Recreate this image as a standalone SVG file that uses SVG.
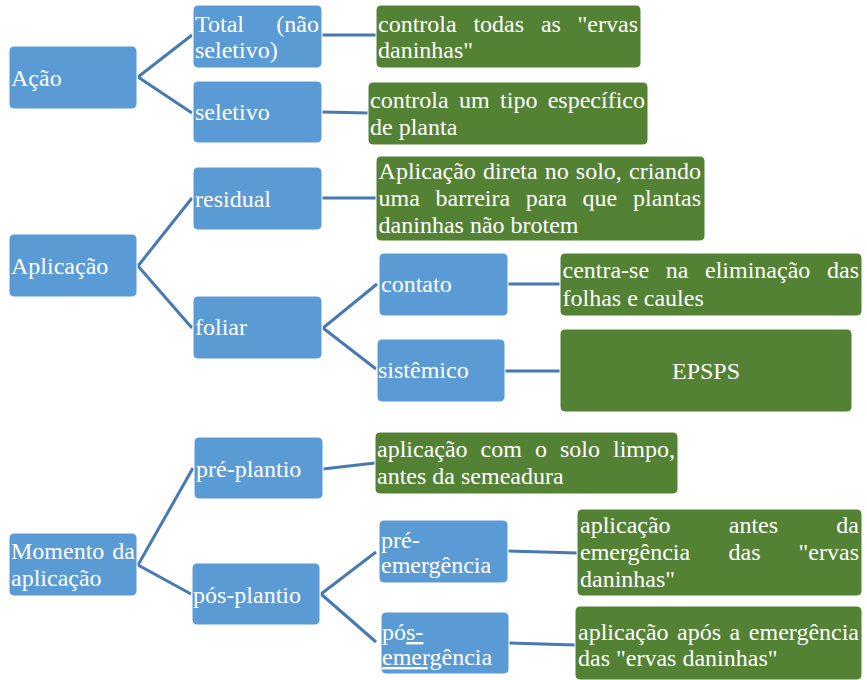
<svg xmlns="http://www.w3.org/2000/svg" width="867" height="680" viewBox="0 0 867 680">
  <style>
    .blue { fill: #5B9BD5; stroke: #FFFFFF; stroke-width: 1; }
    .green { fill: #548235; stroke: #FFFFFF; stroke-width: 1; }
    text { font-family: 'Liberation Serif', 'Times New Roman', serif; font-size: 24px; fill: #FFFFFF; }
    .end { text-anchor: end; }
    .mid { text-anchor: middle; }
    .link { stroke: #4779B2; stroke-width: 3; fill: none; }
    .ul { text-decoration: underline; }
  </style>
  <rect width="867" height="680" fill="#FFFFFF"/>

  <!-- connectors -->
  <g id="connectors">
    <path class="link" d="M138,77 L192,35 M138,77 L192,113"/>
    <path class="link" d="M322,35 L376,35"/>
    <path class="link" d="M322,112 L368,113"/>
    <path class="link" d="M138,266 L192,198 M138,266 L192,328"/>
    <path class="link" d="M322,198 L376,198"/>
    <path class="link" d="M323,328 L377,284 M323,328 L376,369"/>
    <path class="link" d="M508,284 L560,284"/>
    <path class="link" d="M505,371 L560,371"/>
    <path class="link" d="M138,565 L193,468 M138,565 L191,594"/>
    <path class="link" d="M323,469 L375,463"/>
    <path class="link" d="M321,594 L376,552 M321,594 L376,642"/>
    <path class="link" d="M508,551 L577,553"/>
    <path class="link" d="M509,643 L575,645"/>
  </g>

  <!-- Ação -->
  <g id="acao">
    <rect class="blue" x="9" y="46" width="128" height="63" rx="5"/>
    <text x="11" y="86">Ação</text>
  </g>
  <g id="total">
    <rect class="blue" x="193" y="5" width="129" height="63" rx="5"/>
    <text x="195" y="32">Total</text>
    <text class="end" x="319" y="32">(não</text>
    <text x="195" y="58">seletivo)</text>
  </g>
  <g id="seletivo">
    <rect class="blue" x="193" y="81" width="129" height="62" rx="5"/>
    <text x="195" y="120">seletivo</text>
  </g>
  <g id="total-desc">
    <rect class="green" x="376" y="5" width="265" height="63" rx="5"/>
    <text y="32"><tspan x="378">controla</tspan><tspan x="473.4">todas</tspan><tspan x="540.9">as</tspan></text>
    <text class="end" x="638" y="32">"ervas</text>
    <text x="378" y="58">daninhas"</text>
  </g>
  <g id="seletivo-desc">
    <rect class="green" x="368" y="82" width="280" height="63" rx="5"/>
    <text y="108"><tspan x="370">controla</tspan><tspan x="459">um</tspan><tspan x="500.1">tipo</tspan></text>
    <text class="end" x="645" y="108">específico</text>
    <text x="370" y="135">de planta</text>
  </g>

  <!-- Aplicação -->
  <g id="aplicacao">
    <rect class="blue" x="9" y="234" width="128" height="63" rx="5"/>
    <text x="11" y="274">Aplicação</text>
  </g>
  <g id="residual">
    <rect class="blue" x="193" y="167" width="129" height="63" rx="5"/>
    <text x="195" y="207">residual</text>
  </g>
  <g id="foliar">
    <rect class="blue" x="193" y="296" width="129" height="63" rx="5"/>
    <text x="195" y="335">foliar</text>
  </g>
  <g id="residual-desc">
    <rect class="green" x="376" y="156" width="329" height="85" rx="5"/>
    <text y="179"><tspan x="378.6">Aplicação</tspan><tspan x="483">direta</tspan><tspan x="544.7">no</tspan><tspan x="575.8">solo,</tspan></text>
    <text class="end" x="701" y="179">criando</text>
    <text y="206"><tspan x="378.6">uma</tspan><tspan x="435.5">barreira</tspan><tspan x="525.7">para</tspan><tspan x="582.6">que</tspan></text>
    <text class="end" x="701" y="206">plantas</text>
    <text x="378.6" y="233">daninhas não brotem</text>
  </g>
  <g id="contato">
    <rect class="blue" x="379" y="253" width="129" height="63" rx="5"/>
    <text x="381" y="292">contato</text>
  </g>
  <g id="contato-desc">
    <rect class="green" x="560" y="253" width="302" height="63" rx="5"/>
    <text y="278"><tspan x="562.5">centra-se</tspan><tspan x="665.7">na</tspan><tspan x="705">eliminação</tspan></text>
    <text class="end" x="859" y="278">das</text>
    <text x="562.5" y="306">folhas e caules</text>
  </g>
  <g id="sistemico">
    <rect class="blue" x="377" y="339" width="128" height="63" rx="5"/>
    <text x="378" y="378">sistêmico</text>
  </g>
  <g id="sistemico-desc">
    <rect class="green" x="560" y="329" width="292" height="83" rx="5"/>
    <text class="mid" x="706" y="379">EPSPS</text>
  </g>

  <!-- Momento da aplicação -->
  <g id="momento">
    <rect class="blue" x="9" y="533" width="128" height="63" rx="5"/>
    <text x="11" y="559">Momento</text>
    <text class="end" x="135" y="559">da</text>
    <text x="11" y="586">aplicação</text>
  </g>
  <g id="pre-plantio">
    <rect class="blue" x="194" y="437" width="129" height="62" rx="5"/>
    <text x="196" y="477">pré-plantio</text>
  </g>
  <g id="pos-plantio">
    <rect class="blue" x="192" y="563" width="128" height="62" rx="5"/>
    <text x="193" y="603">pós-plantio</text>
  </g>
  <g id="pre-plantio-desc">
    <rect class="green" x="375" y="432" width="303" height="62" rx="5"/>
    <text y="457"><tspan x="377">aplicação</tspan><tspan x="480.6">com</tspan><tspan x="534.9">o</tspan><tspan x="559.9">solo</tspan></text>
    <text class="end" x="675" y="457">limpo,</text>
    <text x="377" y="484">antes da semeadura</text>
  </g>
  <g id="pre-emergencia">
    <rect class="blue" x="379" y="520" width="129" height="63" rx="5"/>
    <text x="381" y="548">pré-</text>
    <text x="381" y="573">emergência</text>
  </g>
  <g id="pre-emergencia-desc">
    <rect class="green" x="577" y="509" width="285" height="87" rx="5"/>
    <text y="533"><tspan x="580">aplicação</tspan><tspan x="728.8">antes</tspan></text>
    <text class="end" x="859" y="533">da</text>
    <text y="560"><tspan x="580">emergência</tspan><tspan x="728.6">das</tspan></text>
    <text class="end" x="859" y="560">"ervas</text>
    <text x="580" y="587">daninhas"</text>
  </g>
  <g id="pos-emergencia">
    <rect class="blue" x="381" y="612" width="128" height="62" rx="5"/>
    <text x="382" y="640">pó<tspan class="ul">s-</tspan></text>
    <text x="382" y="665"><tspan class="ul">emerg</tspan>ência</text>
  </g>
  <g id="pos-emergencia-desc">
    <rect class="green" x="575" y="606" width="287" height="74" rx="5"/>
    <text y="640"><tspan x="578">aplicação</tspan><tspan x="677">após</tspan><tspan x="729.4">a</tspan></text>
    <text class="end" x="859" y="640">emergência</text>
    <text x="578" y="666">das "ervas daninhas"</text>
  </g>
</svg>
